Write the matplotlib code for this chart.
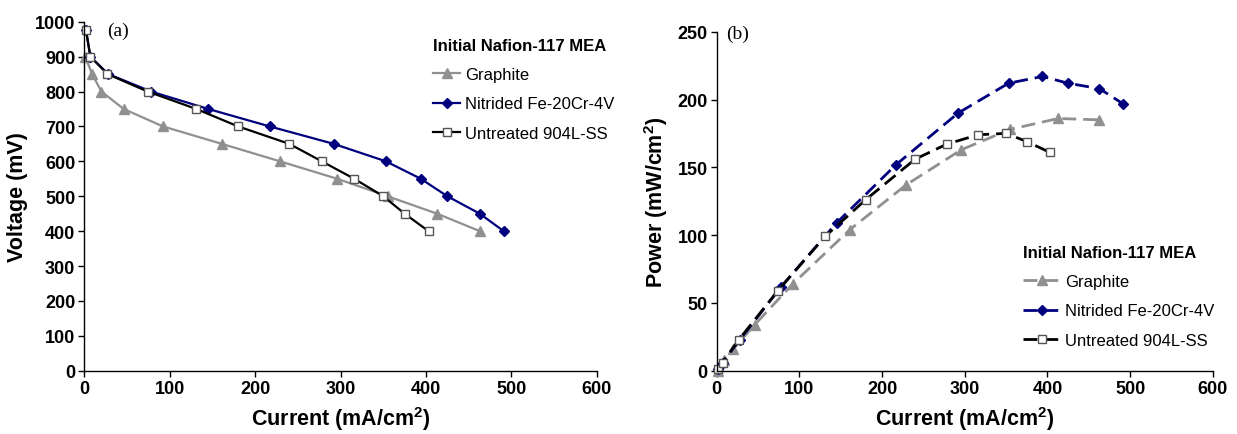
import matplotlib
matplotlib.use("Agg")
import matplotlib.pyplot as plt

plt.rcParams['font.family'] = ['Liberation Sans', 'DejaVu Sans']

# polarisation data
graphite_i = [1, 9, 20, 46, 92, 161, 229, 296, 355, 413, 463]
graphite_v = [900, 850, 800, 750, 700, 650, 600, 550, 500, 450, 400]
graphite_p = [0, 8, 16, 34, 64, 104, 137, 163, 178, 186, 185]

nitrided_i = [2, 7, 28, 78, 145, 217, 292, 353, 394, 425, 463, 491]
nitrided_v = [975, 900, 850, 800, 750, 700, 650, 600, 550, 500, 450, 400]
nitrided_p = [1, 6, 23, 62, 109, 152, 190, 212, 217, 212, 208, 197]

ss_i = [2, 7, 27, 74, 131, 180, 240, 278, 316, 350, 375, 403]
ss_v = [975, 900, 850, 800, 750, 700, 650, 600, 550, 500, 450, 400]
ss_p = [1, 6, 23, 59, 99, 126, 156, 167, 174, 175, 169, 161]

GRAY = "#909090"
NAVY = "#00007f"

fig = plt.figure(figsize=(12.37, 4.35), dpi=100)
ax1 = fig.add_axes([0.0682, 0.1455, 0.4142, 0.8023])
ax2 = fig.add_axes([0.5794, 0.1455, 0.4010, 0.7793])


def style(ax, ymax, ystep, ylabel):
    ax.set_xlim(0, 600)
    ax.set_ylim(0, ymax)
    ax.set_xticks(range(0, 601, 100))
    ax.set_yticks(range(0, ymax + 1, ystep))
    for s in ["top", "right"]:
        ax.spines[s].set_visible(False)
    for s in ["left", "bottom"]:
        ax.spines[s].set_linewidth(1.0)
    ax.tick_params(direction="out", length=4, width=1, labelsize=13, pad=2.5)
    for lab in ax.get_xticklabels() + ax.get_yticklabels():
        lab.set_fontweight("bold")
    ax.set_xlabel("Current (mA/cm$^\\mathregular{2}$)", fontsize=15.5, fontweight="bold", labelpad=5)
    ax.set_ylabel(ylabel, fontsize=15.5, fontweight="bold", labelpad=5)


def legend(ax, anchor, hl):
    leg = ax.legend(loc="upper left", bbox_to_anchor=anchor, frameon=False, fontsize=12,
                    title="Initial Nafion-117 MEA", handlelength=hl, handletextpad=0.3,
                    labelspacing=0.85, alignment="left", borderaxespad=0)
    leg.get_title().set_fontweight("bold")
    leg.get_title().set_fontsize(12)
    return leg


# (a) voltage
ax1.plot(graphite_i, graphite_v, color=GRAY, marker="^", ms=6.5, lw=1.6, label="Graphite", clip_on=False)
ax1.plot(nitrided_i, nitrided_v, color=NAVY, marker="D", ms=5, lw=1.6, label="Nitrided Fe-20Cr-4V", clip_on=False)
ax1.plot(ss_i, ss_v, color="black", marker="s", ms=6, mfc="white", mec="#555555", mew=1.0, lw=1.6,
         label="Untreated 904L-SS", clip_on=False)
style(ax1, 1000, 100, "Voltage (mV)")
ax1.text(0.045, 1.0, "(a)", transform=ax1.transAxes, fontsize=14, family="Liberation Serif", va="top")
legend(ax1, (0.668, 0.972), 1.6)

# (b) power
ax2.plot(graphite_i, graphite_p, color=GRAY, marker="^", ms=6.5, lw=2, ls=(0, (5, 2.5)), label="Graphite", clip_on=False)
ax2.plot(nitrided_i, nitrided_p, color=NAVY, marker="D", ms=5, lw=2, ls=(0, (5, 2.5)),
         label="Nitrided Fe-20Cr-4V", clip_on=False)
ax2.plot(ss_i, ss_p, color="black", marker="s", ms=6, mfc="white", mec="#555555", mew=1.0, lw=2, ls=(0, (5, 2.5)),
         label="Untreated 904L-SS", clip_on=False)
style(ax2, 250, 50, "Power (mW/cm$^\\mathregular{2}$)")
ax2.text(0.018, 1.022, "(b)", transform=ax2.transAxes, fontsize=14, family="Liberation Serif", va="top")
legend(ax2, (0.605, 0.39), 2.2)

fig.savefig("out.png", dpi=100)
